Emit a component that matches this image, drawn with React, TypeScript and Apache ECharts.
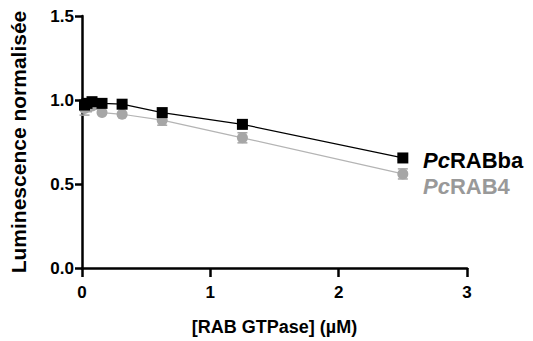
import React, { useEffect, useRef } from "react";
import * as echarts from "echarts";

const concentrations = [0.0195, 0.039, 0.078, 0.156, 0.3125, 0.625, 1.25, 2.5];
const rabbaValues = [0.97, 0.98, 0.99, 0.98, 0.975, 0.925, 0.855, 0.655];
const rabbaErrors = [0.02, 0.01, 0.01, 0.01, 0.01, 0.01, 0.015, 0.01];
const rab4Values = [0.95, 0.96, 0.965, 0.925, 0.915, 0.88, 0.775, 0.56];
const rab4Errors = [0.04, 0.03, 0.02, 0.01, 0.01, 0.03, 0.03, 0.03];
const yTicks = [0, 0.5, 1.0, 1.5];
const xTicks = [0, 1, 2, 3];

const FONT = "'Liberation Sans', Arial, sans-serif";

function errorSeries(vals: number[], errs: number[], color: string) {
  const data = concentrations.map((x, i) => [x, vals[i] - errs[i], vals[i] + errs[i]]);
  return {
    type: "custom",
    z: 1,
    data,
    renderItem: (params: any, api: any) => {
      const x = api.value(0);
      const lo = api.coord([x, api.value(1)]);
      const hi = api.coord([x, api.value(2)]);
      const w = 5;
      const style = { stroke: color, lineWidth: 1.5 };
      return {
        type: "group",
        children: [
          { type: "line", shape: { x1: lo[0], y1: lo[1], x2: hi[0], y2: hi[1] }, style },
          { type: "line", shape: { x1: lo[0] - w, y1: lo[1], x2: lo[0] + w, y2: lo[1] }, style },
          { type: "line", shape: { x1: hi[0] - w, y1: hi[1], x2: hi[0] + w, y2: hi[1] }, style },
        ],
      };
    },
  };
}

function legendText(top: number, italic: string, rest: string, color: string) {
  const base = { fontFamily: FONT, fontWeight: "bold", fontSize: 22, lineHeight: 22, fill: color };
  return {
    type: "text",
    left: 423,
    top,
    style: {
      text: `{i|${italic}}{b|${rest}}`,
      rich: { i: { ...base, fontStyle: "italic" }, b: { ...base } },
    },
  };
}

export default function App() {
  const ref = useRef<HTMLDivElement>(null);
  useEffect(() => {
    document.body.style.margin = "0";
    const chart = echarts.init(ref.current!, null, { renderer: "svg" });
    chart.setOption({
      animation: false,
      grid: { left: 78, right: 66, top: 16, bottom: 67, containLabel: false },
      xAxis: {
        type: "value",
        min: 0,
        max: 3,
        interval: 1,
        name: "[RAB GTPase] (µM)",
        nameLocation: "middle",
        nameGap: 50,
        nameTextStyle: { fontFamily: FONT, fontWeight: "bold", fontSize: 18, color: "#000" },
        axisLine: { lineStyle: { color: "#000", width: 2.5 } },
        axisTick: { inside: false, length: 9, lineStyle: { color: "#000", width: 2.5 } },
        axisLabel: {
          fontFamily: FONT,
          fontWeight: "bold",
          fontSize: 17,
          color: "#000",
          margin: 16,
          formatter: (v: number) => (xTicks.includes(v) ? String(v) : ""),
        },
        splitLine: { show: false },
      },
      yAxis: {
        type: "value",
        min: 0,
        max: 1.5,
        interval: 0.5,
        name: "Luminescence normalisée",
        nameLocation: "middle",
        nameGap: 53,
        nameTextStyle: { fontFamily: FONT, fontWeight: "bold", fontSize: 21, color: "#000" },
        axisLine: { show: true, lineStyle: { color: "#000", width: 2.5 } },
        axisTick: { show: true, length: 7, lineStyle: { color: "#000", width: 2.5 } },
        axisLabel: {
          fontFamily: FONT,
          fontWeight: "bold",
          fontSize: 17,
          color: "#000",
          margin: 8,
          formatter: (v: number) => (yTicks.includes(v) ? v.toFixed(1) : ""),
        },
        splitLine: { show: false },
      },
      series: [
        errorSeries(rab4Values, rab4Errors, "#a6a6a6"),
        {
          type: "line",
          z: 2,
          data: concentrations.map((x, i) => [x, rab4Values[i]]),
          symbol: "circle",
          symbolSize: 11,
          itemStyle: { color: "#a6a6a6" },
          lineStyle: { color: "#b4b4b4", width: 1.2 },
        },
        errorSeries(rabbaValues, rabbaErrors, "#000"),
        {
          type: "line",
          z: 3,
          data: concentrations.map((x, i) => [x, rabbaValues[i]]),
          symbol: "rect",
          symbolSize: 11,
          itemStyle: { color: "#000" },
          lineStyle: { color: "#000", width: 1.2 },
        },
      ],
      graphic: [
        legendText(149, "Pc", "RABba", "#000000"),
        legendText(175, "Pc", "RAB4", "#999999"),
      ],
    });
    return () => chart.dispose();
  }, []);
  return <div ref={ref} style={{ width: 533, height: 341 }} />;
}
